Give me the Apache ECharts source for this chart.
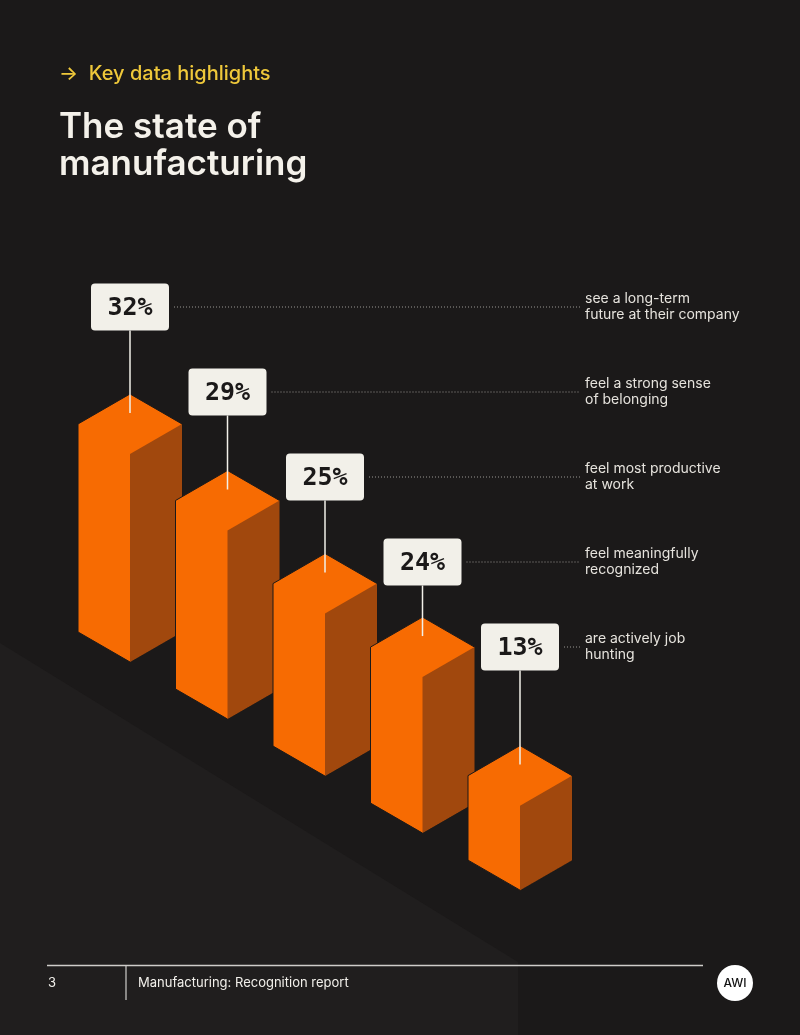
<!DOCTYPE html>
<html><head><meta charset="utf-8">
<script src="https://cdn.jsdelivr.net/npm/echarts@6/dist/echarts.min.js"></script>
<style>html,body{margin:0;padding:0;background:#1b1919;}#c{width:800px;height:1035px;}</style>
</head><body><div id="c"></div>
<script>
// ---- data ----
const categories = ['Long-term future', 'Belonging', 'Productive', 'Recognized', 'Job hunting'];
const values = [32, 29, 25, 24, 13];
const valueLabels = ['32%', '29%', '25%', '24%', '13%'];
const descriptions = [
  ['see a long-term', 'future at their company'],
  ['feel a strong sense', 'of belonging'],
  ['feel most productive', 'at work'],
  ['feel meaningfully', 'recognized'],
  ['are actively job', 'hunting']
];

// ---- style / layout ----
const BG = '#1b1919';
const ORANGE = '#f76b02';
const ORANGE_DARK = '#a1480d';
const CREAM = '#f2f0e9';
const HALF_W = 52;                 // half width of the isometric bar
const HALF_D = HALF_W * Math.tan(Math.PI / 6); // isometric depth
const FLOOR_SLOPE = 0.585;         // floor plane descends to the right
const LABEL_TOP = 307, LABEL_STEP = 85, BOX_W = 78, BOX_H = 47;
const DESC_X = 585, DOT_END = 580;

const chart = echarts.init(document.getElementById('c'), null, {renderer: 'canvas'});

function renderItem(params, api) {
  const i = params.dataIndex;
  const v = api.value(1);
  const base = api.coord([i, 0]);
  const top = api.coord([i, v]);
  const x0 = api.coord([0, 0])[0];
  const shift = (base[0] - x0) * FLOOR_SLOPE;
  const cx = base[0];
  const yb = base[1] + shift;
  const yt = top[1] + shift;
  const A = [cx, yt - 2 * HALF_D], L = [cx - HALF_W, yt - HALF_D], R = [cx + HALF_W, yt - HALF_D];
  const F = [cx, yt], B = [cx, yb], LB = [cx - HALF_W, yb - HALF_D], RB = [cx + HALF_W, yb - HALF_D];
  const rowY = LABEL_TOP + i * LABEL_STEP;
  const children = [
    {type: 'polygon', shape: {points: [A, R, RB, B, LB, L]},
      style: {fill: ORANGE, stroke: '#1b1919', lineWidth: 1}},
    {type: 'polygon', shape: {points: [F, R, RB, B]},
      style: {fill: ORANGE_DARK}},
    {type: 'line', shape: {x1: cx, y1: rowY + BOX_H / 2, x2: cx, y2: A[1] + 19},
      style: {stroke: CREAM, lineWidth: 1.5}},
    {type: 'line', shape: {x1: cx + BOX_W / 2 + 5, y1: rowY, x2: DOT_END, y2: rowY},
      style: {stroke: '#9a9894', lineWidth: 1, lineDash: [1, 2]}},
    {type: 'rect', shape: {x: cx - BOX_W / 2, y: rowY - BOX_H / 2, width: BOX_W, height: BOX_H, r: 4},
      style: {fill: CREAM}},
    {type: 'text', x: cx, y: rowY + 1,
      style: {text: valueLabels[i], fill: '#1b1919', font: 'bold 25px "DejaVu Sans Mono"',
        align: 'center', verticalAlign: 'middle'}},
    {type: 'text', x: DESC_X, y: rowY,
      style: {text: descriptions[i].join('\n'), fill: '#e6e3dd', font: '14px Inter',
        lineHeight: 16, align: 'left', verticalAlign: 'middle'}}
  ];
  return {type: 'group', children};
}

const option = {
  backgroundColor: BG,
  animation: false,
  grid: {left: 81.25, width: 487.5, top: 402, height: 260},
  xAxis: {type: 'category', data: categories, show: false},
  yAxis: {type: 'value', min: 0, max: 40, show: false},
  graphic: [
    {type: 'polygon', z: -10, shape: {points: [[0, 643], [518, 962], [518, 1035], [0, 1035]]},
      style: {fill: '#201e1e'}},
    {type: 'text', x: 59, y: 74, style: {text: '→  Key data highlights', fill: '#efc83a',
      font: '500 20px Inter', verticalAlign: 'middle'}},
    {type: 'text', x: 59, y: 109, style: {text: 'The state of\nmanufacturing', fill: '#f4f1ea',
      font: '600 35px Inter', lineHeight: 37, verticalAlign: 'top'}},
    {type: 'line', shape: {x1: 47, y1: 965.5, x2: 703, y2: 965.5}, style: {stroke: '#cfcdca', lineWidth: 1.5}},
    {type: 'line', shape: {x1: 126, y1: 965, x2: 126, y2: 1000}, style: {stroke: '#cfcdca', lineWidth: 1.2}},
    {type: 'text', x: 48, y: 983, style: {text: '3', fill: '#f2f0eb', font: '13px Inter', verticalAlign: 'middle'}},
    {type: 'text', x: 138, y: 983, style: {text: 'Manufacturing: Recognition report', fill: '#f2f0eb',
      font: '13px Inter', verticalAlign: 'middle'}},
    {type: 'circle', shape: {cx: 735, cy: 983, r: 18}, style: {fill: '#ffffff'}},
    {type: 'text', x: 735, y: 983, style: {text: 'AWI', fill: '#111', font: '500 12px Inter',
      align: 'center', verticalAlign: 'middle'}}
  ],
  series: [{
    type: 'custom',
    renderItem,
    data: values.map((v, i) => [i, v]),
    encode: {x: 0, y: 1}
  }]
};
chart.setOption(option);
</script></body></html>
